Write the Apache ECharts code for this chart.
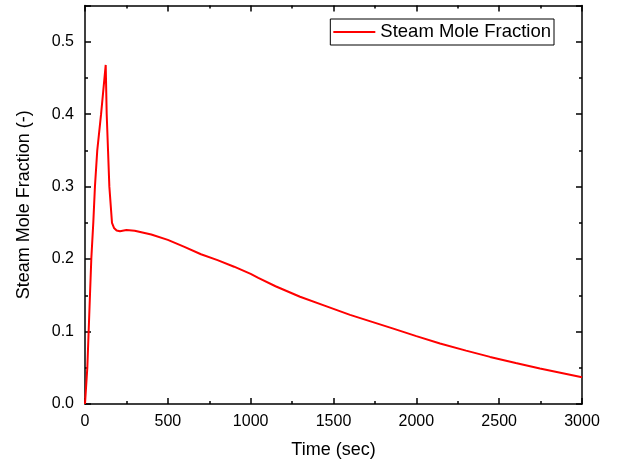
<!DOCTYPE html>
<html>
<head>
<meta charset="utf-8">
<script src="https://cdn.jsdelivr.net/npm/echarts@6/dist/echarts.min.js"></script>
<style>html,body{margin:0;padding:0;background:#fff}#c{width:622px;height:464px}</style>
</head>
<body>
<div id="c"></div>
<script>
var timeSec = [0, 14, 22, 30, 38, 50, 60, 74, 97, 125, 131, 139, 147, 163, 175, 191, 211, 250, 300, 400, 500, 600, 700, 800, 900, 1000, 1046, 1150, 1298, 1450, 1600, 1861, 2000, 2143, 2300, 2445, 2600, 2746, 3000];
var steamFrac = [0, 0.05, 0.1, 0.15, 0.2, 0.25, 0.3, 0.35, 0.4, 0.468, 0.4, 0.35, 0.3, 0.25, 0.243, 0.2395, 0.2385, 0.240, 0.2392, 0.234, 0.2265, 0.2168, 0.2067, 0.1985, 0.1895, 0.1795, 0.174, 0.1625, 0.148, 0.1355, 0.123, 0.104, 0.0937, 0.0835, 0.0737, 0.065, 0.0565, 0.049, 0.037];
var seriesName = 'Steam Mole Fraction';
var xTitle = 'Time (sec)';
var yTitle = 'Steam Mole Fraction (-)';

var pts = timeSec.map(function (t, i) { return [t, steamFrac[i]]; });
var font = 'Liberation Sans, Arial, sans-serif';
var axisCommon = {
  axisLine: { show: true, onZero: false, lineStyle: { color: '#000', width: 1.5 } },
  axisTick: { show: true, inside: true, length: 6, lineStyle: { color: '#000', width: 1.5 } },
  minorTick: { show: true, splitNumber: 2, length: 3, lineStyle: { color: '#000', width: 1.5 } },
  splitLine: { show: false },
  minorSplitLine: { show: false }
};
function ax(extra) { return Object.assign({}, JSON.parse(JSON.stringify(axisCommon)), extra); }

var chart = echarts.init(document.getElementById('c'), null, { renderer: 'canvas' });
chart.setOption({
  animation: false,
  backgroundColor: '#fff',
  grid: { left: 85, right: 40, top: 5.5, bottom: 60, containLabel: false },
  legend: {
    right: 68, top: 19,
    data: [{ name: seriesName, icon: 'rect', itemStyle: { color: '#ff0000' } }],
    borderColor: '#000', borderWidth: 1, borderRadius: 0,
    padding: [3, 3, 3, 3],
    itemWidth: 42, itemHeight: 2,
    textStyle: { fontFamily: font, fontSize: 18.5, color: '#000', lineHeight: 20 }
  },
  xAxis: [
    ax({ type: 'value', position: 'bottom', min: 0, max: 3000, interval: 500,
      name: xTitle, nameLocation: 'middle', nameGap: 37,
      nameTextStyle: { fontFamily: font, fontSize: 18, color: '#000' },
      axisLabel: { fontFamily: font, fontSize: 16, color: '#000', margin: 10,
        formatter: function (v) { return String(v); } } }),
    ax({ type: 'value', position: 'top', min: 0, max: 3000, interval: 500,
      axisLabel: { show: false } })
  ],
  yAxis: [
    ax({ type: 'value', position: 'left', min: 0, max: 0.55, interval: 0.1,
      name: yTitle, nameLocation: 'middle', nameGap: 52,
      nameTextStyle: { fontFamily: font, fontSize: 18, color: '#000' },
      axisLabel: { fontFamily: font, fontSize: 16, color: '#000', margin: 11, showMaxLabel: false,
        formatter: function (v) { return v.toFixed(1); } } }),
    ax({ type: 'value', position: 'right', min: 0, max: 0.55, interval: 0.1,
      axisLabel: { show: false } })
  ],
  series: [{
    name: seriesName,
    type: 'line',
    data: pts,
    xAxisIndex: 0, yAxisIndex: 0,
    showSymbol: false,
    symbol: 'none',
    lineStyle: { color: '#ff0000', width: 2 },
    itemStyle: { color: '#ff0000' },
    smooth: false
  }]
});
</script>
</body>
</html>
